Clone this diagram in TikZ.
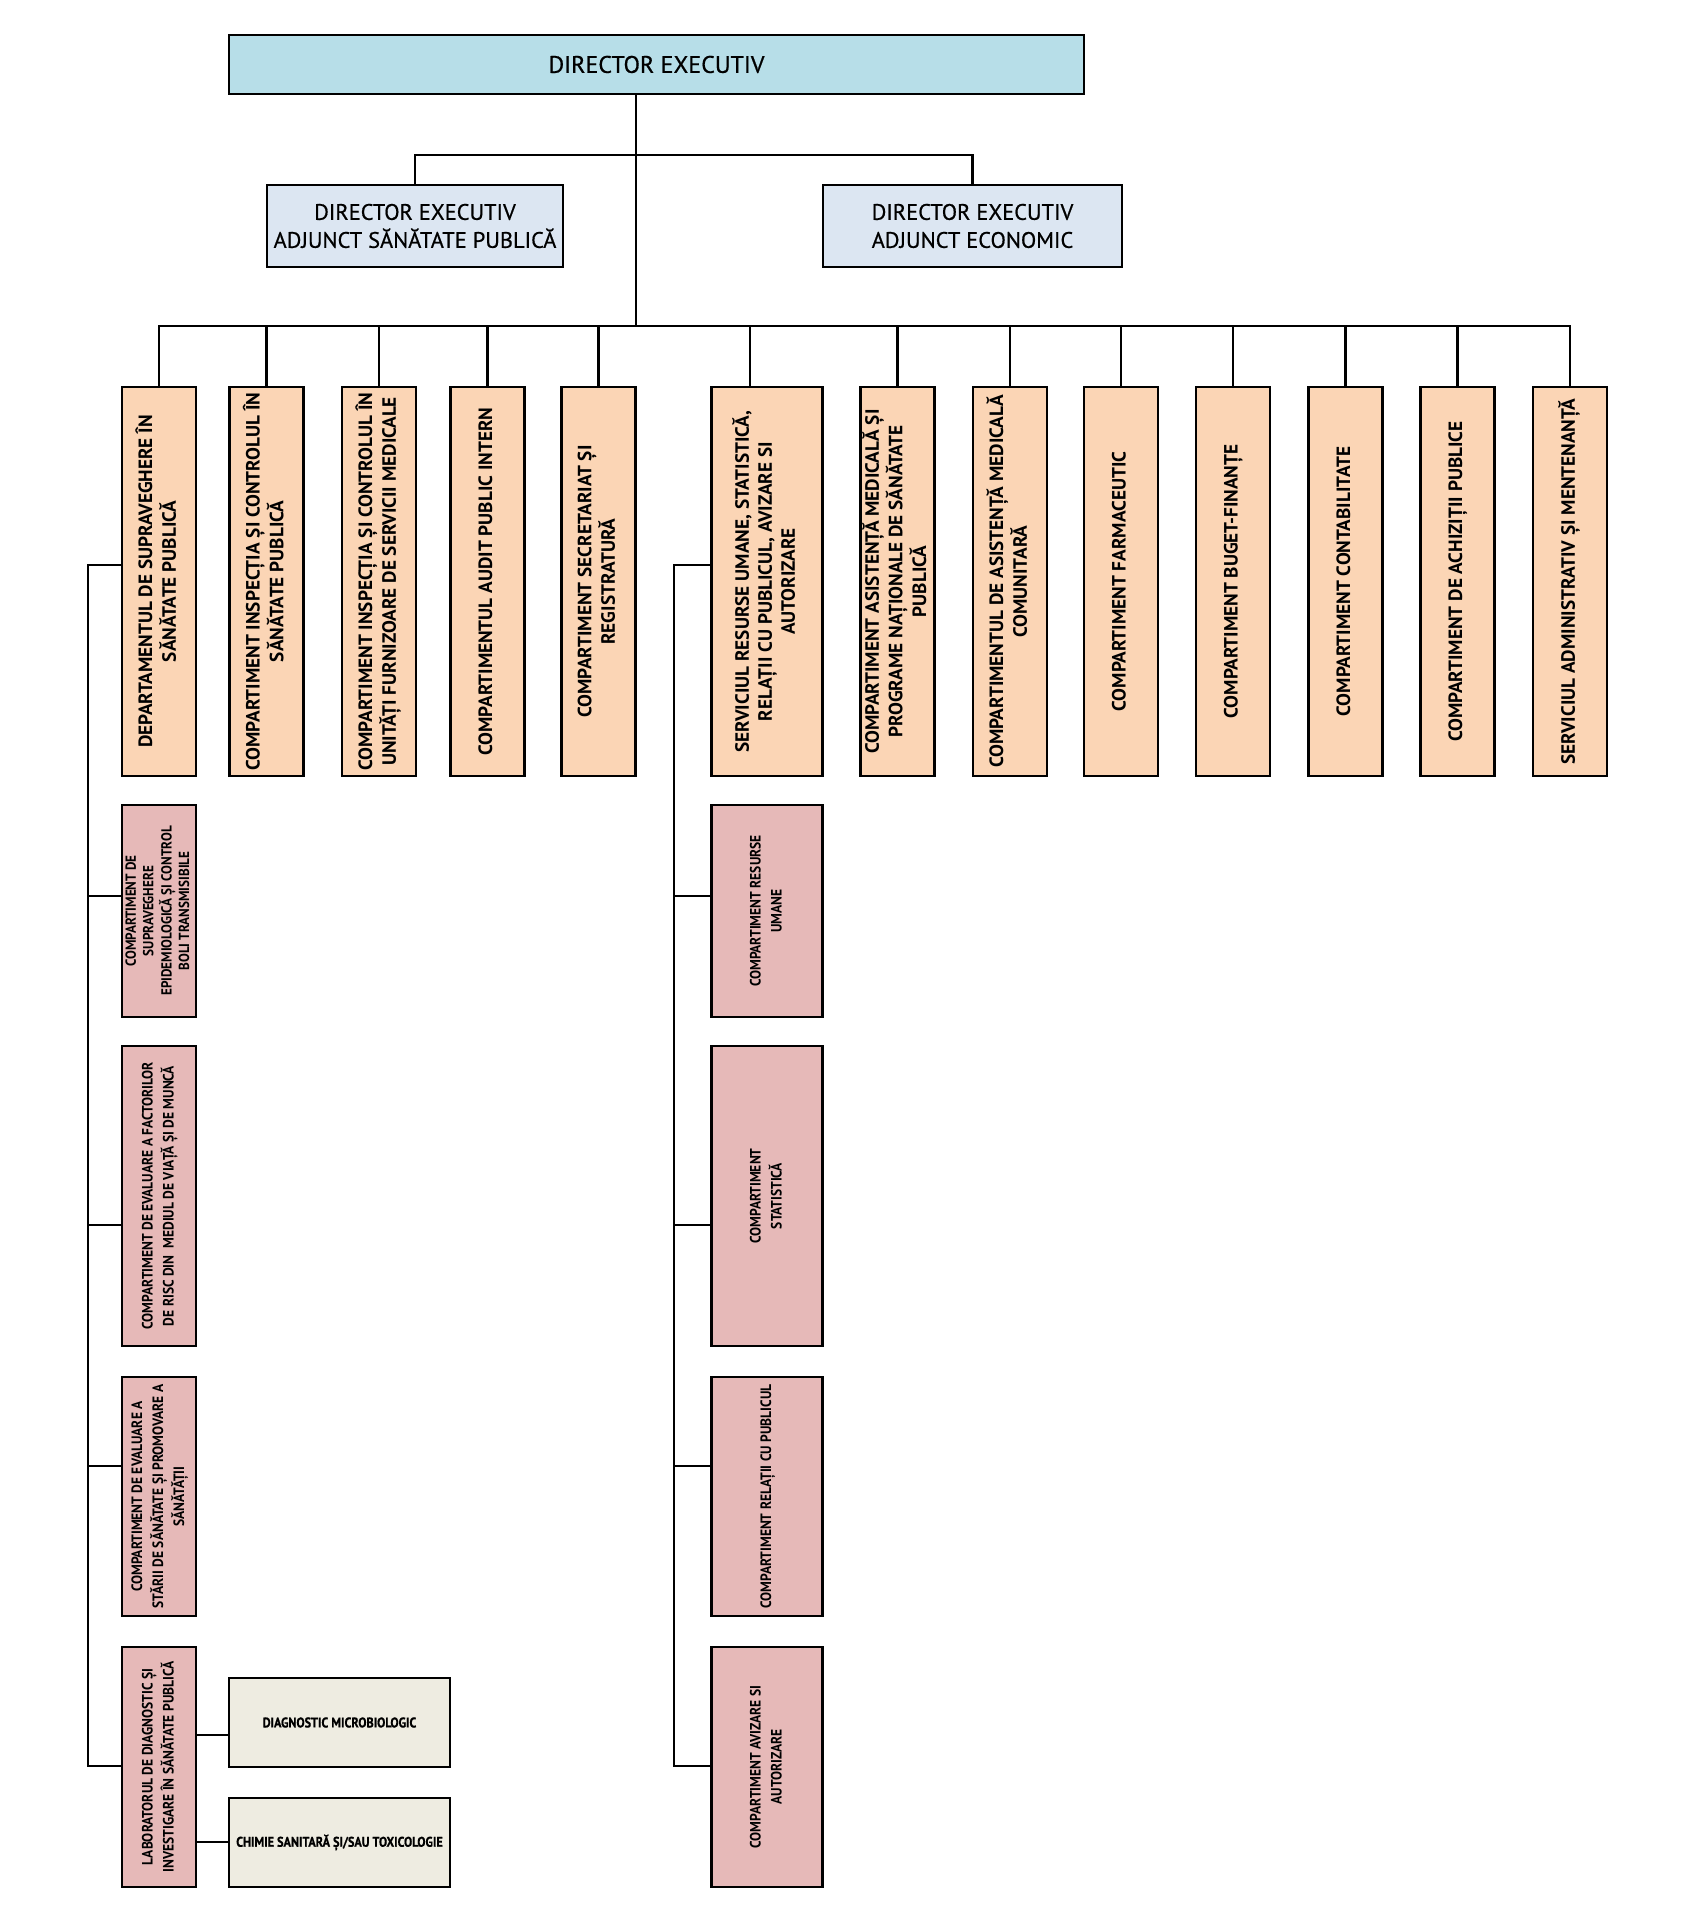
\documentclass[tikz,border=0pt]{standalone}
\usepackage{fontspec}
\setmainfont{PT Sans}
\newfontfamily\medfont[FakeBold=0.6]{PT Sans}
\newfontfamily\narrowfont[FakeStretch=0.9]{PT Sans}
\newfontfamily\labfont[FakeStretch=0.87,FakeBold=0.8]{PT Sans}
\definecolor{topblue}{HTML}{B7DEE8}
\definecolor{depblue}{HTML}{DCE6F2}
\definecolor{peach}{HTML}{FBD5B5}
\definecolor{pinkbox}{HTML}{E6B9B8}
\definecolor{greybox}{HTML}{EEECE1}
\newcommand\rot[1]{\rotatebox{90}{\begin{tabular}{@{}c@{}}#1\end{tabular}}}
\begin{document}
\begin{tikzpicture}[x=0.5pt,y=-0.5pt, line width=1.4pt,
  base/.style={draw, line width=1.4pt, inner sep=0pt},
  topbox/.style={base, fill=topblue, minimum width=427.5pt, minimum height=29.5pt, font=\medfont\fontsize{12}{14}\selectfont},
  depbox/.style={base, align=center, fill=depblue, minimum height=41pt, font=\medfont\fontsize{11.2}{14}\selectfont},
  colbox/.style={base, fill=peach, minimum width=37pt, minimum height=194.5pt, font=\fontsize{9.6}{11.5}\selectfont\bfseries},
  subbox/.style={base, fill=pinkbox, minimum width=37pt, font=\narrowfont\fontsize{7.5}{10.5}\selectfont\bfseries},
  labbox/.style={base, align=center, fill=greybox, minimum width=110.5pt, minimum height=44.5pt, font=\labfont\fontsize{7}{9}\selectfont\bfseries},
]
\useasboundingbox (0,0) rectangle (1700,1914);
% top
\node[topbox] (top) at (656.5,64.5) {DIRECTOR EXECUTIV};
\node[depbox, minimum width=148pt] (depL) at (415,226) {DIRECTOR EXECUTIV\\ADJUNCT SĂNĂTATE PUBLICĂ};
\node[depbox, minimum width=149.5pt] (depR) at (972.5,226) {DIRECTOR EXECUTIV\\ADJUNCT ECONOMIC};
% columns
\node[colbox] (c1) at (159,581.5) {\rot{DEPARTAMENTUL DE SUPRAVEGHERE ÎN\\SĂNĂTATE PUBLICĂ}};
\node[colbox] (c2) at (266.5,581.5) {\rot{COMPARTIMENT INSPECȚIA ȘI CONTROLUL ÎN\\SĂNĂTATE PUBLICĂ}};
\node[colbox] (c3) at (379,581.5) {\rot{COMPARTIMENT INSPECȚIA ȘI CONTROLUL ÎN\\UNITĂȚI FURNIZOARE DE SERVICII MEDICALE}};
\node[colbox] (c4) at (487.5,581.5) {\rot{COMPARTIMENTUL AUDIT PUBLIC INTERN}};
\node[colbox] (c5) at (598.5,581.5) {\rot{COMPARTIMENT SECRETARIAT ȘI\\REGISTRATURĂ}};
\node[colbox, minimum width=55.5pt] (c6) at (767,581.5) {\rot{SERVICIUL RESURSE UMANE, STATISTICĂ,\\RELAȚII CU PUBLICUL, AVIZARE SI\\AUTORIZARE}};
\node[colbox] (c7) at (897.5,581.5) {\rot{COMPARTIMENT ASISTENȚĂ MEDICALĂ ȘI\\PROGRAME NAȚIONALE DE SĂNĂTATE\\PUBLICĂ}};
\node[colbox] (c8) at (1010,581.5) {\rot{COMPARTIMENTUL DE ASISTENȚĂ MEDICALĂ\\COMUNITARĂ}};
\node[colbox] (c9) at (1121,581.5) {\rot{COMPARTIMENT FARMACEUTIC}};
\node[colbox] (c10) at (1233,581.5) {\rot{COMPARTIMENT BUGET-FINANȚE}};
\node[colbox] (c11) at (1345.5,581.5) {\rot{COMPARTIMENT CONTABILITATE}};
\node[colbox] (c12) at (1457.5,581.5) {\rot{COMPARTIMENT DE ACHIZIȚII PUBLICE}};
\node[colbox] (c13) at (1570,581.5) {\rot{SERVICIUL ADMINISTRATIV ȘI MENTENANȚĂ}};
% left sub boxes
\node[subbox, minimum height=106pt, font=\narrowfont\fontsize{7.3}{8.8}\selectfont\bfseries] (s1) at (159,911) {\rot{COMPARTIMENT DE\\SUPRAVEGHERE\\EPIDEMIOLOGICĂ ȘI CONTROL\\BOLI TRANSMISIBILE}};
\node[subbox, minimum height=150pt] (s2) at (159,1196) {\rot{COMPARTIMENT DE EVALUARE A FACTORILOR\\DE RISC DIN\ \ MEDIUL DE VIAȚĂ ȘI DE MUNCĂ}};
\node[subbox, minimum height=119.5pt] (s3) at (159,1496.5) {\rot{COMPARTIMENT DE EVALUARE A\\STĂRII DE SĂNĂTATE ȘI PROMOVARE A\\SĂNĂTĂȚII}};
\node[subbox, minimum height=120pt] (s4) at (159,1767) {\rot{LABORATORUL DE DIAGNOSTIC ȘI\\INVESTIGARE ÎN SĂNĂTATE PUBLICĂ}};
\node[labbox] (d1) at (339.5,1722.5) {DIAGNOSTIC MICROBIOLOGIC};
\node[labbox] (d2) at (339.5,1842.5) {CHIMIE SANITARĂ ȘI/SAU TOXICOLOGIE};
% right sub boxes
\node[subbox, minimum width=55.5pt, minimum height=106pt] (r1) at (767,911) {\rot{COMPARTIMENT RESURSE\\UMANE}};
\node[subbox, minimum width=55.5pt, minimum height=150pt] (r2) at (767,1196) {\rot{COMPARTIMENT\\STATISTICĂ}};
\node[subbox, minimum width=55.5pt, minimum height=119.5pt] (r3) at (767,1496.5) {\rot{COMPARTIMENT RELAȚII CU PUBLICUL}};
\node[subbox, minimum width=55.5pt, minimum height=120pt] (r4) at (767,1767) {\rot{COMPARTIMENT AVIZARE SI\\AUTORIZARE}};
% connector coordinates
\coordinate (br) at (636,155);
\coordinate (bus) at (636,326);
\coordinate (bus6) at (750,326);
\coordinate (lvT) at (88,565);
\coordinate (l1) at (88,896);
\coordinate (l2) at (88,1225);
\coordinate (l3) at (88,1466);
\coordinate (lvB) at (88,1766);
\coordinate (rvT) at (674,565);
\coordinate (q1) at (674,896);
\coordinate (q2) at (674,1225);
\coordinate (q3) at (674,1466);
\coordinate (rvB) at (674,1766);
\coordinate (e1) at (196,1735);
\coordinate (e2) at (196,1842);
% connectors
\draw (bus |- top.south) -- (bus);
\draw (depL.north) -- (depL.north |- br) -- (depR.north |- br) -- (depR.north);
\draw (c1.north) -- (c1.north |- bus) -- (c13.north |- bus) -- (c13.north);
\foreach \n in {2,3,4,5,7,8,9,10,11,12} {\draw (c\n.north) -- (c\n.north |- bus);}
\draw (bus6) -- (bus6 |- c6.north);
\draw (lvT -| c1.west) -- (lvT) -- (lvB) -- (lvB -| s4.west);
\draw (l1) -- (l1 -| s1.west);
\draw (l2) -- (l2 -| s2.west);
\draw (l3) -- (l3 -| s3.west);
\draw (rvT -| c6.west) -- (rvT) -- (rvB) -- (rvB -| r4.west);
\draw (q1) -- (q1 -| r1.west);
\draw (q2) -- (q2 -| r2.west);
\draw (q3) -- (q3 -| r3.west);
\draw (e1) -- (e1 -| d1.west);
\draw (e2) -- (e2 -| d2.west);
\end{tikzpicture}
\end{document}
